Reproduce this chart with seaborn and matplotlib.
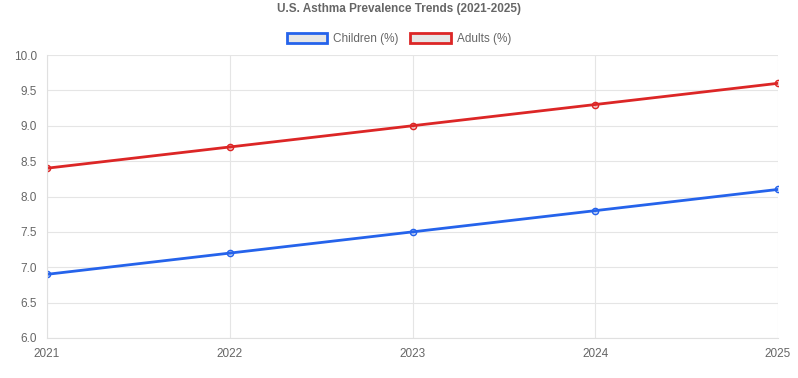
import matplotlib
matplotlib.use("Agg")
import matplotlib.pyplot as plt
import seaborn as sns
import pandas as pd
from matplotlib.patches import Patch

years = [2021, 2022, 2023, 2024, 2025]
children = [6.9, 7.2, 7.5, 7.8, 8.1]
adults = [8.4, 8.7, 9.0, 9.3, 9.6]
series_names = ["Children (%)", "Adults (%)"]
colors = ["#2563eb", "#dc2626"]
title = "U.S. Asthma Prevalence Trends (2021-2025)"

df = pd.DataFrame({
    "year": years * 2,
    "value": children + adults,
    "series": [series_names[0]] * len(years) + [series_names[1]] * len(years),
})

sns.set_theme(style="white")
plt.rcParams["font.family"] = ["Liberation Sans", "DejaVu Sans"]

fig = plt.figure(figsize=(7.98, 3.78), dpi=100)
ax = fig.add_axes([47 / 798, 1 - 338 / 378, (778 - 47) / 798, (338 - 55) / 378])

for name, col in zip(series_names, colors):
    sub = df[df["series"] == name]
    sns.lineplot(data=sub, x="year", y="value", ax=ax, color=col, linewidth=2.0,
                 marker="o", markersize=4.5, markerfacecolor=(*matplotlib.colors.to_rgb(col), 0.25),
                 markeredgecolor=col, markeredgewidth=1.0, legend=False)

ax.set_xlim(2021, 2025)
ax.set_ylim(6.0, 10.0)
ax.set_xticks(years)
ax.set_xticklabels([str(y) for y in years])
ax.set_yticks([6.0 + 0.5 * i for i in range(9)])
ax.set_yticklabels([f"{6.0 + 0.5 * i:.1f}" for i in range(9)])
ax.set_xlabel("")
ax.set_ylabel("")
ax.grid(True, color="#e5e5e5", linewidth=0.8)
ax.set_axisbelow(True)
for s in ["top", "right"]:
    ax.spines[s].set_visible(False)
for s in ["left", "bottom"]:
    ax.spines[s].set_color("#e0e0e0")
    ax.spines[s].set_linewidth(0.8)
ax.tick_params(axis="both", colors="#e0e0e0", labelcolor="#666666", labelsize=8.5,
               length=5, width=0.8, pad=2)

fig.text(0.5, 1 - 9 / 378, title, ha="center", va="center", fontsize=8.5,
         fontweight="bold", color="#666666")

handles = [Patch(facecolor="#e6e6e6", edgecolor=c, linewidth=2.0, label=n)
           for n, c in zip(series_names, colors)]
fig.legend(handles=handles, loc="center", bbox_to_anchor=(0.5, 1 - 39 / 378), ncol=2,
           frameon=False, fontsize=8.5, labelcolor="#666666", handlelength=3.4,
           handleheight=0.9, handletextpad=0.5, columnspacing=1.0)

fig.savefig("out.png", dpi=100)
